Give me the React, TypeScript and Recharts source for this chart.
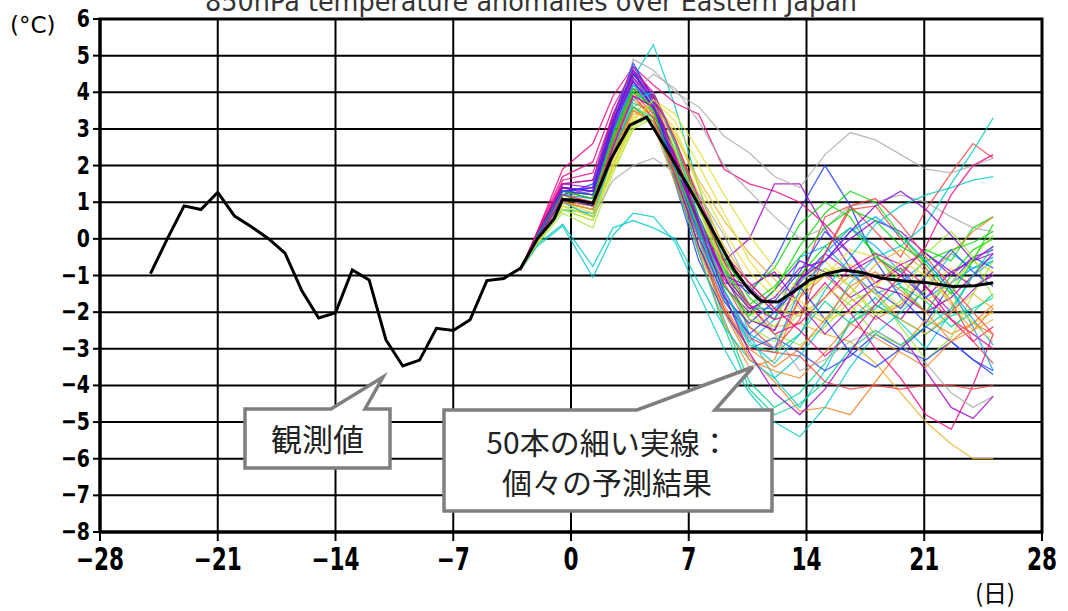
import { LineChart, Line, XAxis, YAxis, CartesianGrid, ReferenceArea } from "recharts";

// observed anomaly (daily, days before initial time)
const OBS_DAYS = [-25, -24, -23, -22, -21, -20, -19, -18, -17, -16, -15, -14, -13, -12, -11, -10, -9, -8, -7, -6, -5, -4, -3];
const OBS_VALUES = [-0.95, 0.0, 0.9, 0.8, 1.27, 0.62, 0.33, 0.01, -0.39, -1.42, -2.16, -2.02, -0.85, -1.12, -2.76, -3.47, -3.31, -2.44, -2.5, -2.21, -1.14, -1.08, -0.8];

// ensemble mean (thick black after the initial time)
const MEAN_DAYS = [-3, -2, -1, -0.5, 0.4, 1.3, 2.4, 3.5, 4.5, 5.8, 7.1, 8.4, 9.7, 10.6, 11.3, 12.3, 13.2, 14.2, 15.2, 16.2, 17.3, 18.4, 19.8, 21.2, 22.7, 24, 25.1];
const MEAN_VALUES = [-0.8, 0.0, 0.55, 1.08, 1.05, 0.97, 2.2, 3.1, 3.32, 2.35, 1.33, 0.25, -0.85, -1.4, -1.7, -1.72, -1.45, -1.12, -0.95, -0.85, -0.92, -1.07, -1.15, -1.2, -1.3, -1.28, -1.2];

// 50 individual members
const MEMBER_DAYS = [-3, -2, -0.5, 1.3, 2.5, 3.7, 4.9, 6.2, 7.6, 9.1, 10.6, 12.1, 13.6, 15.1, 16.6, 18.1, 19.6, 21.1, 22.6, 23.9, 25.1];
const MEMBERS = [
  [-0.85, 0.1, 1.2, 1.0, 2.6, 3.9, 3.6, 2.0, 0.4, -1.0, -2.2, -2.5, -1.2, 0.6, 0.9, 0.2, -0.5, 0.8, 1.8, 2.6, 2.2],
  [-0.85, 0.0, 1.3, 1.1, 2.9, 4.2, 3.7, 2.4, 0.8, -0.5, -1.6, -2.2, -1.0, -0.2, 0.3, -0.4, -1.3, -2.0, -1.0, -0.3, 0.0],
  [-0.85, 0.15, 1.5, 1.6, 3.4, 4.7, 3.9, 2.2, 0.5, -0.9, -1.5, -0.6, 0.8, 2.0, 0.9, -0.6, -1.6, -2.3, -1.2, -0.5, -0.8],
  [-0.85, -0.1, 0.8, 0.7, 2.5, 4.4, 5.3, 3.6, 1.4, -0.6, -2.6, -3.8, -4.6, -3.6, -2.2, -1.6, -2.3, -3.0, -2.0, -1.0, -0.6],
  [-0.85, 0.2, 1.9, 2.6, 3.9, 4.7, 4.2, 3.7, 3.4, 1.9, 1.5, 1.3, 1.0, 0.4, -0.4, -1.2, -0.8, -1.6, -2.2, -2.6, -3.0],
  [-0.85, -0.1, 0.9, 0.6, 2.0, 3.3, 3.7, 3.0, 1.5, 0.2, -0.9, -1.6, -1.2, -0.6, -1.3, -2.0, -1.8, -0.9, -1.5, -2.3, -2.0],
  [-0.85, 0.0, 1.0, 0.8, 2.2, 3.5, 3.2, 1.7, -0.2, -1.9, -3.2, -3.9, -4.7, -4.6, -4.8, -3.9, -3.0, -2.2, -2.6, -2.3, -1.8],
  [-0.85, 0.1, 1.4, 1.2, 3.0, 4.4, 3.6, 1.6, 0.2, -0.6, 0.0, 1.5, 1.5, 0.3, -0.8, -1.8, -2.2, -1.3, -2.0, -1.4, -0.9],
  [-0.85, -0.15, 0.7, 0.3, 1.8, 3.0, 3.3, 2.6, 1.0, -0.8, -2.0, -2.6, -2.9, -2.4, -1.7, -1.4, -2.4, -3.3, -2.7, -1.5, -0.6],
  [-0.85, 0.05, 1.2, 1.3, 3.1, 4.3, 3.4, 1.9, 0.1, -1.6, -2.8, -2.2, -0.5, -0.2, -0.9, -1.5, -1.2, -0.6, -1.4, -2.2, -2.9],
  [-0.85, 0.0, 1.1, 0.9, 2.4, 3.6, 3.9, 2.8, 1.6, 0.5, -0.4, -1.1, -1.9, -2.3, -1.5, -0.7, -0.3, -0.9, -1.8, -2.5, -2.2],
  [-0.85, -0.05, 1.0, 0.8, 2.3, 3.7, 3.5, 2.0, 0.0, -2.2, -3.9, -4.6, -4.2, -3.4, -2.3, -1.8, -2.2, -2.6, -2.1, -1.9, -1.6],
  [-0.85, 0.1, 1.3, 1.4, 3.2, 4.5, 3.8, 2.1, 0.3, -1.3, -2.0, -1.4, -0.6, -0.9, -1.6, -1.2, -0.7, -0.4, -1.0, -0.5, -0.3],
  [-0.85, 0.05, 1.2, 1.1, 3.0, 4.9, 4.6, 4.0, 3.6, 2.8, 2.35, 1.7, 1.4, 2.3, 2.9, 2.7, 2.3, 1.9, 1.8, 2.0, 2.2],
  [-0.85, 0.0, 1.1, 0.9, 2.7, 4.0, 3.4, 1.8, 0.2, -1.4, -2.7, -3.0, -1.6, -0.4, 0.8, 0.9, 0.0, -0.8, -1.7, -2.8, -3.4],
  [-0.85, 0.1, 1.3, 1.2, 2.9, 4.1, 3.9, 2.7, 1.0, -0.6, -1.4, -0.8, 0.4, 1.0, 0.6, -0.5, -0.9, -0.3, -0.6, 0.3, 0.6],
  [-0.85, 0.0, 1.2, 1.5, 3.3, 4.8, 3.8, 1.5, -0.6, -2.0, -3.0, -2.7, -3.1, -3.6, -3.2, -2.6, -3.0, -3.3, -2.8, -3.3, -3.6],
  [-0.85, -0.2, 0.35, -1.05, 0.1, 0.7, 0.6, -0.1, -1.5, -3.0, -4.2, -5.0, -5.4, -4.6, -3.5, -2.6, -2.0, -1.4, -0.4, -0.8, -0.6],
  [-0.85, 0.15, 1.6, 1.8, 3.4, 4.5, 3.9, 2.6, 0.9, -0.6, -1.8, -2.2, -2.0, -1.2, -2.0, -3.0, -3.8, -4.8, -5.2, -4.0, -2.6],
  [-0.85, 0.0, 1.0, 0.7, 2.1, 3.3, 3.6, 2.9, 1.4, -0.3, -1.4, -2.0, -1.5, -0.9, -0.7, -1.2, -1.9, -1.4, -0.8, -1.3, -1.0],
  [-0.85, 0.05, 1.1, 1.0, 2.5, 3.8, 3.3, 1.6, -0.4, -2.3, -3.5, -3.3, -1.6, -1.0, -1.6, -2.2, -1.8, -1.0, -0.4, 0.2, 0.6],
  [-0.85, 0.1, 1.5, 1.4, 3.2, 4.6, 3.5, 1.7, 0.0, -1.2, -1.3, -2.0, -1.1, -0.4, -0.9, -0.5, -1.0, -1.6, -0.9, -0.6, -0.4],
  [-0.85, -0.1, 0.9, 0.6, 2.0, 3.2, 3.4, 2.5, 0.9, -0.9, -2.4, -2.8, -2.0, -1.3, -1.8, -2.6, -2.9, -2.4, -1.4, -0.5, 0.1],
  [-0.85, 0.0, 1.3, 1.2, 3.0, 4.4, 3.7, 1.8, 0.1, -0.9, -1.9, -1.9, -1.2, -0.4, 0.3, -0.2, -0.9, -1.6, -1.2, -0.8, -0.5],
  [-0.85, 0.0, 1.0, 0.8, 2.3, 3.4, 3.5, 2.3, 0.9, -0.7, -1.9, -2.4, -2.3, -2.6, -2.8, -3.4, -4.2, -5.0, -5.6, -6.0, -6.0],
  [-0.85, 0.05, 1.1, 0.9, 2.5, 3.6, 3.3, 1.9, 0.2, -1.6, -2.9, -3.1, -2.6, -1.7, -2.3, -1.9, -1.3, -1.7, -2.4, -2.0, -1.5],
  [-0.85, 0.15, 1.4, 1.3, 3.2, 4.3, 3.6, 2.2, 0.5, -1.0, -2.2, -2.5, -1.1, -0.6, 0.0, 0.5, 0.2, -0.4, -0.9, -1.3, -1.0],
  [-0.85, 0.0, 1.1, 1.0, 2.6, 4.0, 4.5, 4.1, 3.2, 2.0, 1.3, 0.6, 0.0, 0.3, 0.9, 1.0, 1.2, 1.0, 0.6, 0.3, 0.2],
  [-0.85, 0.1, 1.3, 1.1, 2.8, 4.1, 3.6, 2.1, 0.3, -1.2, -2.4, -3.0, -2.2, -0.4, 0.9, 1.1, 0.4, -0.5, -1.3, -2.0, -2.6],
  [-0.85, 0.0, 1.2, 0.9, 2.7, 4.0, 3.6, 2.0, 0.6, -0.8, -1.8, -1.3, -0.5, 0.3, 0.8, 0.5, -0.2, -0.6, -0.3, -0.1, 0.2],
  [-0.85, 0.1, 1.4, 1.3, 3.1, 4.5, 3.8, 2.0, 0.0, -1.6, -2.3, -1.7, -0.9, 0.2, -0.4, -1.4, -1.9, -1.0, -0.3, -0.9, -1.3],
  [-0.85, -0.15, 0.4, -0.75, 0.3, 0.5, 0.3, 0.0, -1.2, -2.4, -3.3, -3.8, -3.2, -2.3, -1.2, -0.5, -0.2, 0.4, 1.5, 2.4, 3.3],
  [-0.85, 0.1, 1.5, 1.6, 3.3, 4.4, 3.8, 2.3, 0.6, -1.0, -1.8, -2.6, -2.3, -1.6, -0.8, -0.4, -0.7, -1.3, -2.2, -2.8, -2.4],
  [-0.85, -0.1, 0.8, 0.5, 1.9, 3.0, 3.8, 3.4, 2.4, 1.2, 0.1, -0.8, -1.4, -1.0, -0.3, -0.5, -1.1, -1.7, -1.2, -0.6, -0.9],
  [-0.85, 0.0, 1.0, 0.9, 2.4, 3.6, 3.1, 1.5, -0.3, -2.0, -3.3, -3.6, -3.8, -3.1, -2.3, -2.7, -3.1, -3.5, -2.8, -2.3, -2.6],
  [-0.85, 0.1, 1.4, 1.3, 3.1, 4.6, 3.9, 2.2, 0.4, -1.0, -1.3, -0.9, -1.8, -2.6, -1.9, -1.3, -1.5, -2.0, -1.6, -1.0, -0.4],
  [-0.85, -0.1, 0.8, 0.5, 2.0, 3.1, 3.3, 2.4, 0.8, -0.9, -2.2, -2.4, -1.5, -0.8, -1.3, -2.1, -1.7, -0.4, 0.2, -0.5, -1.6],
  [-0.85, 0.05, 1.2, 1.1, 2.9, 4.2, 3.6, 1.9, 0.2, -1.4, -2.6, -3.0, -1.4, -0.6, 0.2, 0.6, 0.1, -0.6, -1.4, -2.4, -3.6],
  [-0.85, 0.0, 1.0, 0.8, 2.4, 3.5, 3.7, 2.6, 1.2, -0.2, -1.2, -1.9, -2.1, -1.6, -1.0, -1.5, -2.2, -2.6, -2.0, -1.5, -1.9],
  [-0.85, 0.0, 1.1, 0.9, 2.4, 3.6, 3.2, 1.6, -0.4, -2.4, -4.1, -4.8, -4.5, -3.9, -3.0, -2.5, -2.9, -2.4, -1.9, -1.0, -0.2],
  [-0.85, 0.1, 1.3, 1.2, 3.0, 4.3, 3.6, 2.0, 0.4, -1.1, -1.9, -1.6, -0.8, -0.6, 0.2, 0.9, 1.3, 0.8, 0.1, -0.6, -0.2],
  [-0.85, -0.05, 1.0, 0.6, 1.6, 2.0, 2.2, 1.8, 1.2, 0.1, -1.3, -2.6, -3.6, -3.3, -2.8, -2.5, -2.9, -3.4, -4.2, -4.6, -4.3],
  [-0.85, 0.0, 1.2, 1.0, 2.6, 3.9, 3.3, 1.7, -0.2, -1.9, -3.0, -3.1, -3.2, -3.9, -4.1, -4.0, -4.1, -4.0, -4.0, -4.1, -4.0],
  [-0.85, 0.1, 1.3, 1.1, 2.8, 4.1, 3.5, 1.9, 0.3, -1.3, -2.1, -1.4, -0.2, 0.7, 1.3, 1.0, 0.1, -0.7, -1.5, -0.6, 0.4],
  [-0.85, 0.05, 1.3, 1.4, 3.2, 4.6, 3.7, 1.8, -0.2, -1.7, -2.6, -2.0, -1.3, -2.2, -3.1, -3.5, -3.0, -2.4, -2.8, -3.3, -3.7],
  [-0.85, 0.0, 1.0, 0.6, 2.3, 3.8, 4.0, 2.6, 0.6, -1.4, -2.8, -3.4, -2.6, -1.4, -0.5, 0.4, 0.9, 1.2, 1.4, 1.6, 1.7],
  [-0.85, 0.2, 1.7, 2.1, 3.6, 4.6, 4.0, 2.7, 1.1, -0.4, -1.2, -1.9, -2.5, -3.2, -2.6, -1.8, -1.0, -0.2, 1.2, 2.0, 2.3],
  [-0.85, -0.1, 0.9, 0.6, 2.0, 3.2, 3.8, 3.2, 2.0, 0.7, -0.6, -1.4, -1.7, -2.2, -2.0, -1.3, -0.6, -1.0, -1.7, -2.3, -2.8],
  [-0.85, 0.0, 1.0, 0.8, 2.4, 3.5, 3.2, 1.8, 0.0, -1.8, -3.0, -3.5, -3.0, -2.2, -1.3, -0.9, -1.4, -2.0, -2.8, -2.5, -1.9],
  [-0.85, 0.0, 1.1, 0.9, 2.5, 3.9, 3.6, 2.2, 0.4, -1.5, -3.1, -4.2, -4.8, -4.1, -3.1, -2.1, -2.6, -3.6, -4.6, -4.9, -4.3],
];

// GrADS default colour table 2..15
const MEMBER_COLORS = [
  "#fa3c3c", "#00dc00", "#1e3cff", "#00c8c8", "#f00082", "#e6dc32", "#f08228",
  "#a000c8", "#a0e632", "#00a0ff", "#e6af2d", "#00d28c", "#8200dc", "#aaaaaa",
];

const X_TICKS = [-28, -21, -14, -7, 0, 7, 14, 21, 28];
const Y_TICKS = [6, 5, 4, 3, 2, 1, 0, -1, -2, -3, -4, -5, -6, -7, -8];

const toRows = (days: number[], vals: number[]) => days.map((d, i) => ({ d, v: vals[i] }));
const fmt = (v: number) => (v < 0 ? "\u2212" + Math.abs(v) : String(v));

const TICK_FONT = "'DejaVu Sans Condensed', 'DejaVu Sans', sans-serif";

function XTick(props: any) {
  const { x, y, payload } = props;
  return (
    <text
      transform={`translate(${x},${y + 29}) scale(1,1.3)`}
      textAnchor="middle"
      fontFamily={TICK_FONT}
      fontWeight={700}
      fontSize={24}
      fill="#000"
    >
      {fmt(payload.value)}
    </text>
  );
}

function YTick(props: any) {
  const { x, y, payload } = props;
  return (
    <text
      transform={`translate(${x - 1},${y + 8}) scale(1,1.22)`}
      textAnchor="end"
      fontFamily={TICK_FONT}
      fontWeight={700}
      fontSize={21}
      fill="#000"
    >
      {fmt(payload.value)}
    </text>
  );
}

export default function App() {
  const jp = "'Noto Sans CJK JP', 'Noto Sans', sans-serif";
  return (
    <div style={{ position: "absolute", left: 0, top: 0, width: 1068, height: 611, background: "#fff", overflow: "hidden" }}>
      <LineChart width={1068} height={611} margin={{ top: 19, right: 26, bottom: 0, left: 0 }}>
        <CartesianGrid stroke="#000" strokeWidth={2} />
        <XAxis
          type="number"
          dataKey="d"
          domain={[-28, 28]}
          ticks={X_TICKS}
          interval={0}
          allowDataOverflow
          height={79}
          tickSize={9}
          tickMargin={0}
          tick={(p: any) => <XTick {...p} />}
          tickLine={{ stroke: "#000", strokeWidth: 2 }}
          axisLine={{ stroke: "#000", strokeWidth: 3 }}
        />
        <YAxis
          type="number"
          domain={[-8, 6]}
          ticks={Y_TICKS}
          interval={0}
          allowDataOverflow
          width={100}
          tickSize={7}
          tickMargin={2}
          tick={(p: any) => <YTick {...p} />}
          tickLine={{ stroke: "#000", strokeWidth: 2 }}
          axisLine={{ stroke: "#000", strokeWidth: 3 }}
        />
        {MEMBERS.map((m, i) => (
          <Line
            key={"m" + i}
            data={toRows(MEMBER_DAYS, m)}
            dataKey="v"
            stroke={MEMBER_COLORS[i % MEMBER_COLORS.length]}
            strokeWidth={1.3}
            strokeOpacity={0.8}
            dot={false}
            activeDot={false}
            isAnimationActive={false}
          />
        ))}
        <Line data={toRows(OBS_DAYS, OBS_VALUES)} dataKey="v" stroke="#000" strokeWidth={3} dot={false} activeDot={false} isAnimationActive={false} />
        <Line data={toRows(MEAN_DAYS, MEAN_VALUES)} dataKey="v" stroke="#000" strokeWidth={3} dot={false} activeDot={false} isAnimationActive={false} />
        <ReferenceArea x1={-28} x2={28} y1={-8} y2={6} fill="none" stroke="#000" strokeWidth={3} ifOverflow="visible" />
      </LineChart>

      <svg width={1068} height={611} style={{ position: "absolute", left: 0, top: 0, pointerEvents: "none" }}>
        <text x={205} y={11} fontFamily="'DejaVu Sans', sans-serif" fontSize={26} fill="#333" textLength={652} lengthAdjust="spacingAndGlyphs">
          850hPa temperature anomalies over Eastern Japan
        </text>
        <text x={10} y={33} fontFamily="'DejaVu Sans', sans-serif" fontSize={23} fill="#000">(°C)</text>
        <text x={975} y={602} fontFamily={jp} fontSize={24} fill="#000">(日)</text>

        <path d="M245,409 L331,409 L383,377 L365,409 L390,409 L390,468 L245,468 Z" fill="#fff" stroke="#7f7f7f" strokeWidth={3.5} strokeLinejoin="miter" />
        <text x={317.5} y={437} textAnchor="middle" dominantBaseline="central" fontFamily={jp} fontSize={31} fill="#222">観測値</text>

        <path d="M444,410 L637,410 L753,367 L715,410 L772,410 L772,511 L444,511 Z" fill="#fff" stroke="#7f7f7f" strokeWidth={3.5} strokeLinejoin="miter" />
        <text x={608} y={441} textAnchor="middle" dominantBaseline="central" fontFamily={jp} fontSize={30} fill="#222">50本の細い実線：</text>
        <text x={607} y={481} textAnchor="middle" dominantBaseline="central" fontFamily={jp} fontSize={30} fill="#222">個々の予測結果</text>
      </svg>
    </div>
  );
}
